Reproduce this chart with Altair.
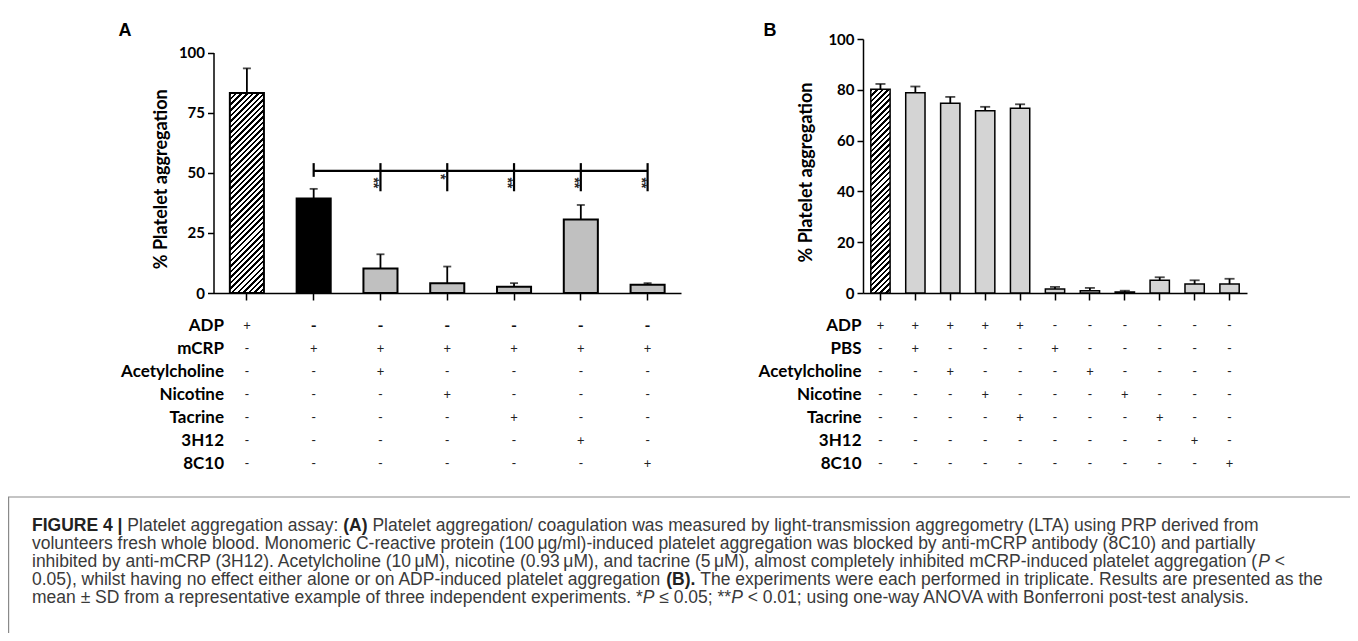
import altair as alt
import pandas as pd

# ---------------- data ----------------
cond_a = ["ADP", "mCRP", "mCRP+ACh", "mCRP+Nic", "mCRP+Tac", "mCRP+3H12", "mCRP+8C10"]
mean_a = [83.2, 39.3, 10.2, 4.1, 2.6, 30.6, 3.4]
sd_a = [10.2, 4.0, 5.9, 6.9, 1.5, 6.0, 0.7]
kind_a = ["hatch", "black", "gray", "gray", "gray", "gray", "gray"]
rows_a = ["ADP", "mCRP", "Acetylcholine", "Nicotine", "Tacrine", "3H12", "8C10"]
table_a = [
    ["+", "-", "-", "-", "-", "-", "-"],
    ["-", "+", "+", "+", "+", "+", "+"],
    ["-", "-", "+", "-", "-", "-", "-"],
    ["-", "-", "-", "+", "-", "-", "-"],
    ["-", "-", "-", "-", "+", "-", "-"],
    ["-", "-", "-", "-", "-", "+", "-"],
    ["-", "-", "-", "-", "-", "-", "+"],
]
bold_row_a = "ADP"
sig_cond = cond_a[2:]
sig_stars = ["**", "*", "**", "**", "**"]
sig_line = 50.8
sig_top = 54.0
sig_bottom = 42.3
sig_ref_bottom = 48.3
star_pos = [45.8, 48.4, 45.8, 45.8, 45.8]

cond_b = ["ADP", "ADP+PBS", "ADP+ACh", "ADP+Nic", "ADP+Tac", "PBS", "ACh", "Nic", "Tac", "3H12", "8C10"]
mean_b = [80.2, 78.8, 74.7, 71.8, 72.7, 1.6, 0.9, 0.4, 5.0, 3.5, 3.5]
sd_b = [2.1, 2.5, 2.5, 1.5, 1.6, 0.8, 1.1, 0.5, 1.2, 1.5, 2.1]
kind_b = ["hatch"] + ["gray"] * 10
rows_b = ["ADP", "PBS", "Acetylcholine", "Nicotine", "Tacrine", "3H12", "8C10"]
table_b = [
    ["+", "+", "+", "+", "+", "-", "-", "-", "-", "-", "-"],
    ["-", "+", "-", "-", "-", "+", "-", "-", "-", "-", "-"],
    ["-", "-", "+", "-", "-", "-", "+", "-", "-", "-", "-"],
    ["-", "-", "-", "+", "-", "-", "-", "+", "-", "-", "-"],
    ["-", "-", "-", "-", "+", "-", "-", "-", "+", "-", "-"],
    ["-", "-", "-", "-", "-", "-", "-", "-", "-", "+", "-"],
    ["-", "-", "-", "-", "-", "-", "-", "-", "-", "-", "+"],
]

# caption: each line is a list of (text, style) segments; style n=normal, b=bold, i=italic
caption = [
    [("FIGURE 4 | ", "b"), ("Platelet aggregation assay: ", "n"), ("(A)", "b"),
     (" Platelet aggregation/ coagulation was measured by light-transmission aggregometry (LTA) using PRP derived from", "n")],
    [("volunteers fresh whole blood. Monomeric C-reactive protein (100\u2009\u03bcg/ml)-induced platelet aggregation was blocked by anti-mCRP antibody (8C10) and partially", "n")],
    [("inhibited by anti-mCRP (3H12). Acetylcholine (10\u2009\u03bcM), nicotine (0.93\u2009\u03bcM), and tacrine (5\u2009\u03bcM), almost completely inhibited mCRP-induced platelet aggregation (", "n"),
     ("P", "i"), (" <", "n")],
    [("0.05), whilst having no effect either alone or on ADP-induced platelet aggregation ", "n"), ("(B).", "b"),
     (" The experiments were each performed in triplicate. Results are presented as the", "n")],
    [("mean \u00b1 SD from a representative example of three independent experiments. *", "n"), ("P", "i"),
     (" \u2264 0.05; **", "n"), ("P", "i"), (" < 0.01; using one-way ANOVA with Bonferroni post-test analysis.", "n")],
]
y_title = "% Platelet aggregation"

# ---------------- layout (pixels in chart space) ----------------
W, H = 1342, 625
XA = [205.5, 673.0]
YA = [285.0, 44.5]
XB = [855.0, 1239.0]
YB = [285.0, 31.0]
PAD_A = 0.49
PAD_B = 0.447
ROWS_Y = [318.0, 456.0]
LABEL_X_A = 216.0
LABEL_X_B = 853.5
CAP_Y = [518.0, 590.0]
CAP_X = 24.0
CAP_SIZE = 17.5

BOLD = "Lato"
GRAY_A = "#c0c0c0"
GRAY_B = "#d4d4d4"

# Arial / Liberation Sans advance widths (per 1000 em) to place caption segments
_REG = {' ': 278, '(': 333, ')': 333, '*': 389, ',': 278, '-': 333, '.': 278, '/': 278, ':': 278, ';': 278,
        '<': 584, '|': 260, '\u2009': 200, '\u03bc': 576, '\u00b1': 549, '\u2264': 549,
        'A': 667, 'B': 667, 'C': 722, 'D': 722, 'E': 667, 'F': 611, 'G': 778, 'H': 722, 'I': 278, 'J': 500,
        'K': 667, 'L': 556, 'M': 833, 'N': 722, 'O': 778, 'P': 667, 'Q': 778, 'R': 722, 'S': 667, 'T': 611,
        'U': 722, 'V': 667, 'W': 944, 'X': 667, 'Y': 667, 'Z': 611,
        'a': 556, 'b': 556, 'c': 500, 'd': 556, 'e': 556, 'f': 278, 'g': 556, 'h': 556, 'i': 222, 'j': 222,
        'k': 500, 'l': 222, 'm': 833, 'n': 556, 'o': 556, 'p': 556, 'q': 556, 'r': 333, 's': 500, 't': 278,
        'u': 556, 'v': 500, 'w': 722, 'x': 500, 'y': 500, 'z': 500}
_BOLD = {' ': 278, '(': 333, ')': 333, '.': 278, '|': 280, '4': 556, 'A': 722, 'B': 722, 'E': 667, 'F': 611,
         'G': 778, 'I': 278, 'R': 722, 'U': 722}


def text_width(s, style, size):
    tab = _BOLD if style == "b" else _REG
    return sum(tab.get(ch, 556) for ch in s) * size / 1000.0


def xscale(dom, rng, pad):
    return alt.Scale(type="band", domain=dom, range=rng, paddingInner=pad, paddingOuter=pad / 2)


def yscale(rng):
    return alt.Scale(domain=[0, 100], range=rng, nice=False, zero=True)


def hatch(w, h, period=3.9, frac=0.45):
    a = (w + h) / (w * w + h * h)
    n = max(1, int(round((w + h) / (2 ** 0.5 * period))))
    stops = []
    for k in range(n):
        o0 = k / n
        o1 = min(1.0, (k + frac) / n)
        o2 = min(1.0, (k + 1) / n)
        stops += [("#000000", o0), ("#000000", o1), ("#ffffff", o1), ("#ffffff", o2)]
    return alt.LinearGradient(
        gradient="linear",
        stops=[alt.GradientStop(color=c, offset=round(o, 6)) for c, o in stops],
        x1=0, y1=0, x2=a * w, y2=a * h,
    )


def panel(cond, mean, sd, kind, rows, table, xr, yr, pad, gray, label_x, cap, bar_sw, yvals, title_x, bold_row=None):
    df = pd.DataFrame({"cond": cond, "mean": mean, "sd": sd, "kind": kind})
    df["top"] = df["mean"] + df["sd"]
    xs = xscale(cond, xr, pad)
    ys = yscale(yr)
    step = (xr[1] - xr[0]) / len(cond)
    bw = step * (1 - pad)
    px_per = (yr[0] - yr[1]) / 100.0

    layers = []
    layers.append(
        alt.Chart(df).transform_filter(alt.datum.kind != "hatch").mark_bar(
            stroke="black", strokeWidth=bar_sw
        ).encode(
            x=alt.X("cond:N", scale=xs, axis=alt.Axis(
                orient="bottom", offset=yr[0] - H, labels=False, title=None,
                tickSize=7, tickWidth=1.5, tickColor="black",
                domainColor="black", domainWidth=1.5)),
            y=alt.Y("mean:Q", scale=ys, axis=alt.Axis(
                orient="left", offset=-xr[0], values=yvals, grid=False,
                tickSize=6, tickWidth=1.5, tickColor="black",
                domainColor="black", domainWidth=1.5,
                labelFont=BOLD, labelFontWeight="bold", labelFontSize=15, labelColor="black",
                labelPadding=3,
                title=y_title, titleFont=BOLD, titleFontWeight="bold", titleFontSize=18,
                titleColor="black", titleAngle=-90, titleBaseline="middle", titleAlign="center",
                titleX=title_x, titleY=(yr[0] + yr[1]) / 2 + 6)),
            fill=alt.Fill("kind:N", scale=alt.Scale(domain=["black", "gray"], range=["#000000", gray]), legend=None),
        )
    )
    hmean = df.loc[df["kind"] == "hatch", "mean"]
    if len(hmean):
        grad = hatch(bw, float(hmean.iloc[0]) * px_per)
        layers.append(
            alt.Chart(df).transform_filter(alt.datum.kind == "hatch").mark_bar(
                stroke="black", strokeWidth=bar_sw, fill=grad
            ).encode(
                x=alt.X("cond:N", scale=xs, axis=None),
                y=alt.Y("mean:Q", scale=ys, axis=None),
            )
        )
    layers.append(
        alt.Chart(df).mark_rule(color="black", strokeWidth=1.8).encode(
            x=alt.X("cond:N", scale=xs, axis=None),
            y=alt.Y("mean:Q", scale=ys, axis=None),
            y2="top:Q",
        )
    )
    layers.append(
        alt.Chart(df).mark_tick(color="black", thickness=1.8, size=cap, orient="horizontal").encode(
            x=alt.X("cond:N", scale=xs, axis=None),
            y=alt.Y("top:Q", scale=ys, axis=None),
        )
    )
    recs = []
    for r, row in enumerate(rows):
        for c, s in enumerate(table[r]):
            strong = bool(bold_row == row and s == "-")
            recs.append({"row": row, "cond": cond[c], "sign": s, "strong": strong})
    tdf = pd.DataFrame(recs)
    rs = alt.Scale(type="point", domain=rows, range=ROWS_Y, padding=0)
    layers.append(
        alt.Chart(tdf).transform_filter(alt.datum.strong == False).mark_text(
            font=BOLD, fontSize=13, color="#222222", baseline="middle").encode(
            x=alt.X("cond:N", scale=xs, axis=None),
            y=alt.Y("row:N", scale=rs, axis=None),
            text="sign:N",
        )
    )
    if bold_row is not None:
        layers.append(
            alt.Chart(tdf).transform_filter(alt.datum.strong == True).mark_text(
                font=BOLD, fontWeight="bold", fontSize=16, color="#111111", baseline="middle").encode(
                x=alt.X("cond:N", scale=xs, axis=None),
                y=alt.Y("row:N", scale=rs, axis=None),
                text="sign:N",
            )
        )
    ldf = pd.DataFrame({"row": rows})
    layers.append(
        alt.Chart(ldf).mark_text(font=BOLD, fontWeight="bold", fontSize=17, color="black",
                                 align="right", baseline="middle").encode(
            x=alt.value(label_x),
            y=alt.Y("row:N", scale=rs, axis=None),
            text="row:N",
        )
    )
    return layers, xs, ys


layers_a, xsa, ysa = panel(cond_a, mean_a, sd_a, kind_a, rows_a, table_a, XA, YA, PAD_A, GRAY_A,
                           LABEL_X_A, 8, 2.0, [0, 25, 50, 75, 100], -52, bold_row=bold_row_a)
layers_b, xsb, ysb = panel(cond_b, mean_b, sd_b, kind_b, rows_b, table_b, XB, YB, PAD_B, GRAY_B,
                           LABEL_X_B, 10, 1.5, [0, 20, 40, 60, 80, 100], -57)

# significance bracket for panel A
sig_df = pd.DataFrame({"cond": sig_cond, "star": sig_stars, "spos": star_pos})
sig_df["top"] = sig_top
sig_df["bottom"] = sig_bottom
line_df = pd.DataFrame({"c1": [cond_a[1]], "c2": [cond_a[-1]], "y": [sig_line]})
ref_df = pd.DataFrame({"cond": [cond_a[1]], "top": [sig_top], "bottom": [sig_ref_bottom]})

sig_layers = [
    alt.Chart(line_df).mark_rule(color="black", strokeWidth=2.2).encode(
        x=alt.X("c1:N", scale=xsa, axis=None), x2="c2:N",
        y=alt.Y("y:Q", scale=ysa, axis=None)),
    alt.Chart(sig_df).mark_rule(color="black", strokeWidth=2.2).encode(
        x=alt.X("cond:N", scale=xsa, axis=None),
        y=alt.Y("top:Q", scale=ysa, axis=None), y2="bottom:Q"),
    alt.Chart(ref_df).mark_rule(color="black", strokeWidth=2.2).encode(
        x=alt.X("cond:N", scale=xsa, axis=None),
        y=alt.Y("top:Q", scale=ysa, axis=None), y2="bottom:Q"),
    alt.Chart(sig_df).mark_text(angle=90, fontSize=14, fontWeight="bold", color="#2a2a2a", dy=7,
                                font="Liberation Sans", baseline="middle", align="center").encode(
        x=alt.X("cond:N", scale=xsa, axis=None),
        y=alt.Y("spos:Q", scale=ysa, axis=None),
        text="star:N"),
]

# panel letters
letters = pd.DataFrame({"t": ["A", "B"], "px": [117, 762]})
letter_layer = alt.Chart(letters).mark_text(font="Liberation Sans", fontWeight="bold", fontSize=18,
                                            color="black", align="center", baseline="middle").encode(
    x=alt.X("px:Q", scale=alt.Scale(domain=[0, W], range=[0, W]), axis=None),
    y=alt.value(23),
    text="t:N",
)

# caption segments -> table with offsets measured from the text itself
seg_recs = []
for li, segs in enumerate(caption):
    off = 0.0
    for txt, st in segs:
        lead = len(txt) - len(txt.lstrip(" "))
        shown = txt.lstrip(" ")
        seg_recs.append({"line": li, "text": shown, "style": st,
                         "dx": off + text_width(" " * lead, st, CAP_SIZE)})
        off += text_width(txt, st, CAP_SIZE)
seg_df = pd.DataFrame(seg_recs)
cap_scale = alt.Scale(type="point", domain=list(range(len(caption))), range=CAP_Y, padding=0)


def cap_layer(style, **kw):
    return alt.Chart(seg_df).transform_filter(alt.datum.style == style).mark_text(
        font="Liberation Sans", fontSize=CAP_SIZE, align="left", baseline="middle", **kw).encode(
        x=alt.value(CAP_X),
        xOffset=alt.XOffset("dx:Q", scale=None),
        y=alt.Y("line:O", scale=cap_scale, axis=None),
        text="text:N")


caption_layers = [
    alt.Chart(pd.DataFrame({"a": [1]})).mark_rect(fill="white", stroke="#8a8a8a", strokeWidth=1.2).encode(
        x=alt.value(0.6), x2=alt.value(1345.5), y=alt.value(489), y2=alt.value(632)),
    cap_layer("n", color="#3a3a3a"),
    cap_layer("b", color="#222222", fontWeight="bold"),
    cap_layer("i", color="#3a3a3a", fontStyle="italic"),
]

chart = alt.layer(*(layers_a + layers_b + sig_layers + [letter_layer] + caption_layers)).resolve_scale(
    x="independent", y="independent", fill="independent", xOffset="independent"
).resolve_axis(x="independent", y="independent").properties(
    width=W, height=H, padding=0, autosize=alt.AutoSizeParams(type="none")
).configure_view(stroke=None)

chart.save("out.html", embed_options={"renderer": "svg", "actions": False})
